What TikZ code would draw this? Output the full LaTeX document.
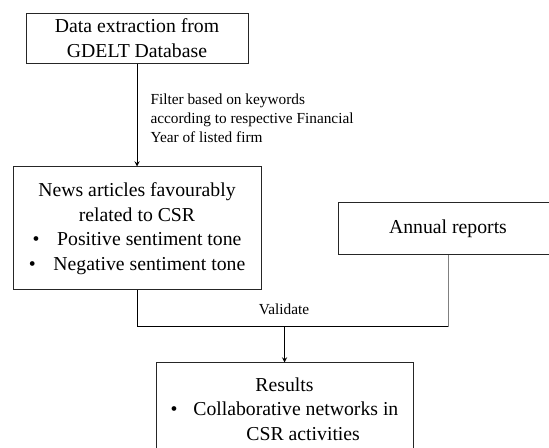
\documentclass[tikz,border=0pt]{standalone}
\usepackage{fontspec}
\setmainfont{Liberation Serif}
\begin{document}
\begin{tikzpicture}[x=0.75pt, y=-0.75pt, line width=0.75pt,
  box/.style={draw=black!85, rectangle, align=center, inner sep=2pt, font=\fontsize{14.8}{18.4}\selectfont},
  lbl/.style={inner sep=0pt, align=left, font=\fontsize{11.5}{14.25}\selectfont}]
\useasboundingbox (0,0) rectangle (549,448);
\clip (0,0) rectangle (549,448);
\node[box, minimum width=166.5pt, minimum height=37.5pt] (data) at (137,38.3) {Data extraction from\\GDELT Database};
\node[box, minimum width=186pt, minimum height=92.25pt] (news) at (137,228.5) {News articles favourably\\related to CSR\\\textbullet\hspace{0.9em}Positive sentiment tone\\\textbullet\hspace{0.9em}Negative sentiment tone};
\node[box, minimum width=165pt, minimum height=39pt] (ann) at (448,229) {Annual reports};
\node[box, minimum width=192.75pt, minimum height=69pt] (res) at (284.5,409) {Results\\\textbullet\hspace{0.8em}Collaborative networks in\\\hspace*{28pt}CSR activities};
\node[lbl, anchor=west] (flt) at (150,118) {Filter based on keywords\\according to respective Financial\\Year of listed firm};
\node[lbl] (val) at (284,309) {Validate};
\coordinate (vj) at (284.5,327);
\draw[->,>=stealth] (data) -- (news);
\draw[black!50] (ann.south) -- (ann.south |- vj);
\draw (news.south) |- (ann.south |- vj);
\draw[->,>=stealth] (vj) -- (res);
\end{tikzpicture}
\end{document}
